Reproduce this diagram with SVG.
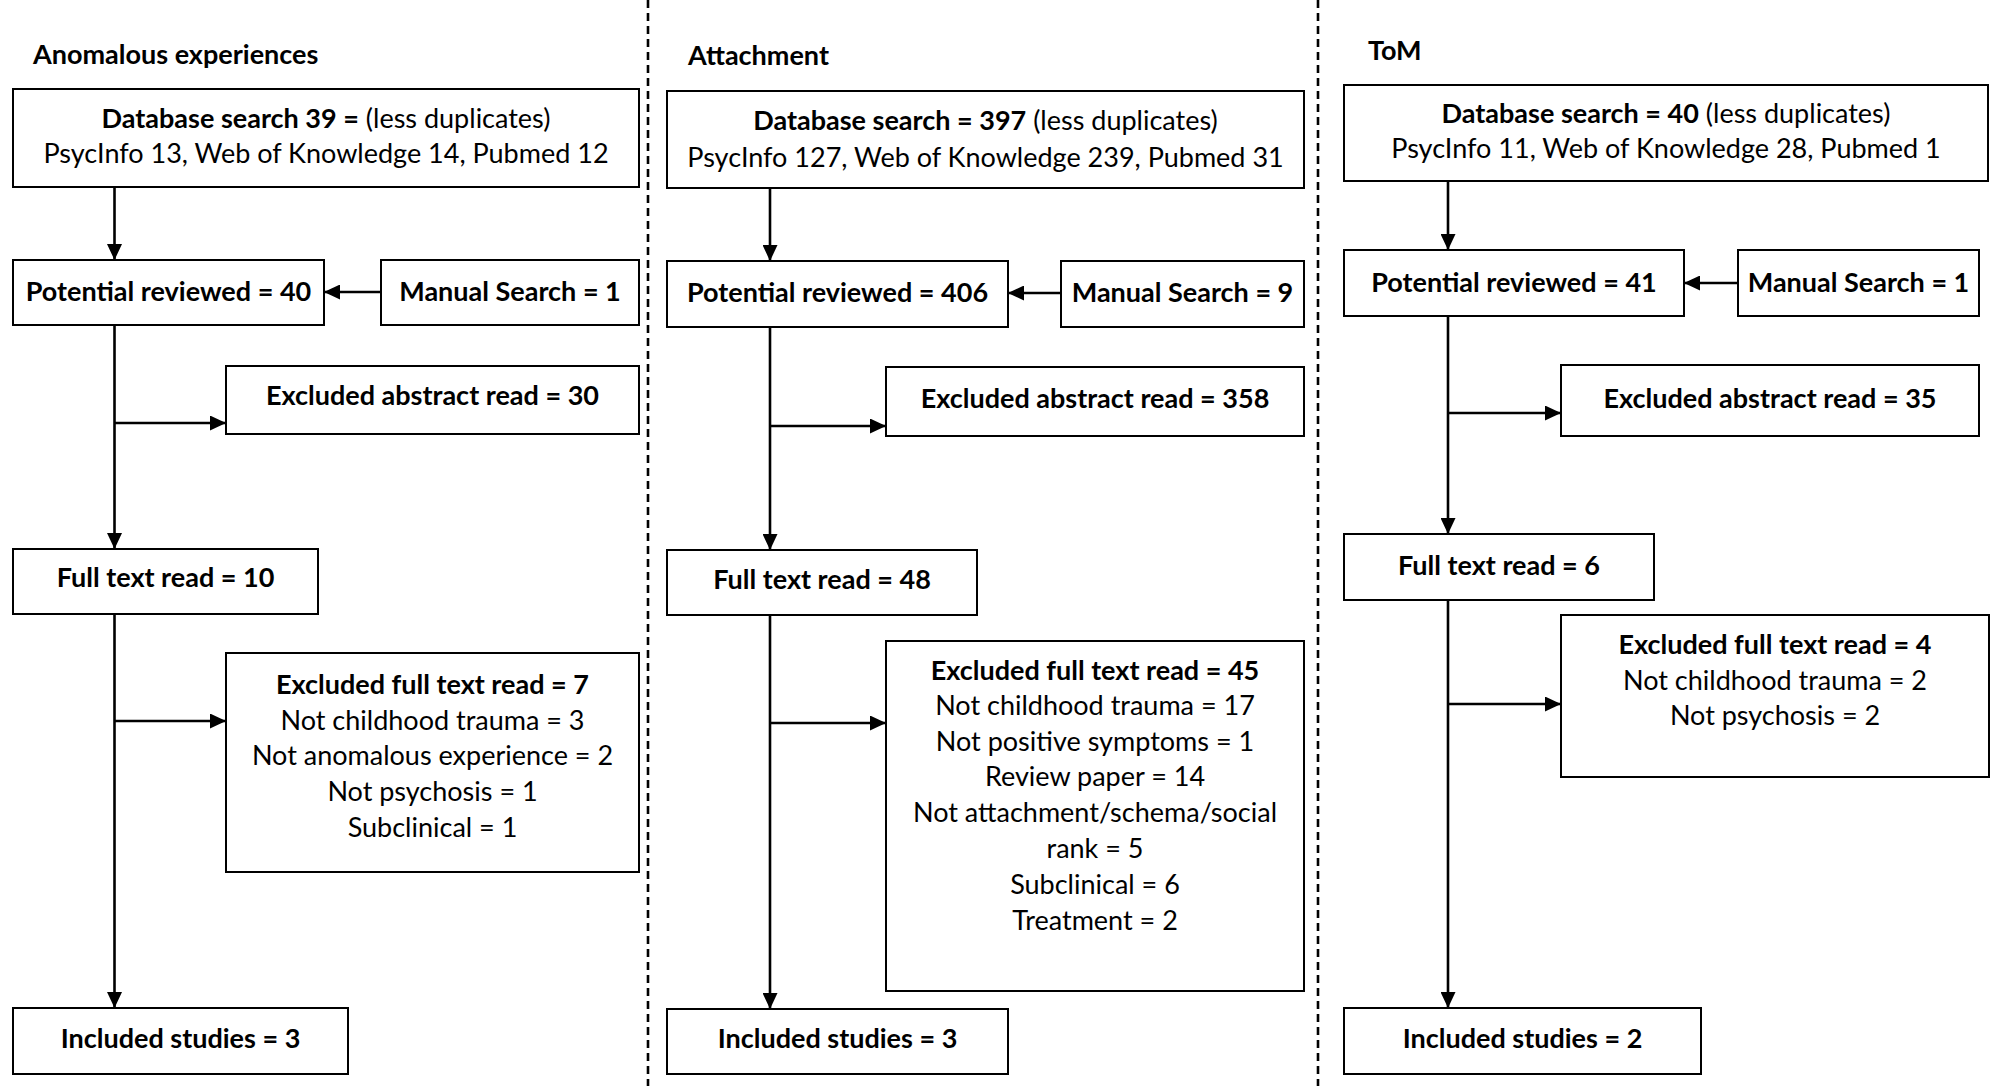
<svg xmlns="http://www.w3.org/2000/svg" width="1993" height="1086" viewBox="0 0 1993 1086">
<style>
  .box { fill: #fff; stroke: #000; stroke-width: 2; }
  .t { font-family: Lato, "Liberation Sans", sans-serif; font-size: 27px; fill: #000; text-anchor: middle; }
  .b { font-weight: bold; }
  .title { font-family: Lato, "Liberation Sans", sans-serif; font-size: 27px; font-weight: bold; fill: #000; }
  .conn { fill: none; stroke: #000; stroke-width: 2.6; }
  .div { stroke: #000; stroke-width: 2.6; stroke-dasharray: 8 5; }
</style>
<defs>
  <marker id="ah" markerWidth="16" markerHeight="15" refX="16" refY="7.5" orient="auto" markerUnits="userSpaceOnUse">
    <path d="M0,0 L16,7.5 L0,15 z" fill="#000"/>
  </marker>
</defs>
<rect width="1993" height="1086" fill="#fff"/>
<g id="dividers">
  <line class="div" x1="648" y1="0" x2="648" y2="1086"/>
  <line class="div" x1="1318" y1="0" x2="1318" y2="1086"/>
</g>
<g id="titles">
  <text class="title" x="33" y="64">Anomalous experiences</text>
  <text class="title" x="688" y="65">Attachment</text>
  <text class="title" x="1368" y="60">ToM</text>
</g>
<g id="connectors">
  <line class="conn" x1="114.5" y1="187" x2="114.5" y2="260" marker-end="url(#ah)"/>
  <line class="conn" x1="114.5" y1="325" x2="114.5" y2="549" marker-end="url(#ah)"/>
  <line class="conn" x1="114.5" y1="614" x2="114.5" y2="1008" marker-end="url(#ah)"/>
  <line class="conn" x1="381" y1="292" x2="324" y2="292" marker-end="url(#ah)"/>
  <line class="conn" x1="114.5" y1="423" x2="226" y2="423" marker-end="url(#ah)"/>
  <line class="conn" x1="114.5" y1="721" x2="226" y2="721" marker-end="url(#ah)"/>

  <line class="conn" x1="770" y1="188" x2="770" y2="261" marker-end="url(#ah)"/>
  <line class="conn" x1="770" y1="327" x2="770" y2="550" marker-end="url(#ah)"/>
  <line class="conn" x1="770" y1="615" x2="770" y2="1009" marker-end="url(#ah)"/>
  <line class="conn" x1="1061" y1="293" x2="1008" y2="293" marker-end="url(#ah)"/>
  <line class="conn" x1="770" y1="426" x2="886" y2="426" marker-end="url(#ah)"/>
  <line class="conn" x1="770" y1="723" x2="886" y2="723" marker-end="url(#ah)"/>

  <line class="conn" x1="1448" y1="181" x2="1448" y2="250" marker-end="url(#ah)"/>
  <line class="conn" x1="1448" y1="316" x2="1448" y2="534" marker-end="url(#ah)"/>
  <line class="conn" x1="1448" y1="600" x2="1448" y2="1008" marker-end="url(#ah)"/>
  <line class="conn" x1="1738" y1="283" x2="1684" y2="283" marker-end="url(#ah)"/>
  <line class="conn" x1="1448" y1="413" x2="1561" y2="413" marker-end="url(#ah)"/>
  <line class="conn" x1="1448" y1="704" x2="1561" y2="704" marker-end="url(#ah)"/>
</g>

<!-- Column 1 -->
<g id="ae-db">
  <rect class="box" x="13" y="89" width="626" height="98"/>
  <text class="t" x="326" y="127.5"><tspan class="b">Database search 39 =</tspan> (less duplicates)</text>
  <text class="t" x="326" y="163">PsycInfo 13, Web of Knowledge 14, Pubmed 12</text>
</g>
<g id="ae-potential">
  <rect class="box" x="13" y="260" width="311" height="65"/>
  <text class="t b" x="168.5" y="301">Potential reviewed = 40</text>
</g>
<g id="ae-manual">
  <rect class="box" x="381" y="260" width="258" height="65"/>
  <text class="t b" x="510" y="301">Manual Search = 1</text>
</g>
<g id="ae-excl-abstract">
  <rect class="box" x="226" y="366" width="413" height="68"/>
  <text class="t b" x="432.5" y="405">Excluded abstract read = 30</text>
</g>
<g id="ae-fulltext">
  <rect class="box" x="13" y="549" width="305" height="65"/>
  <text class="t b" x="165.5" y="587">Full text read = 10</text>
</g>
<g id="ae-excl-full">
  <rect class="box" x="226" y="653" width="413" height="219"/>
  <text class="t b" x="432.5" y="694">Excluded full text read = 7</text>
  <text class="t" x="432.5" y="729.5">Not childhood trauma = 3</text>
  <text class="t" x="432.5" y="765">Not anomalous experience = 2</text>
  <text class="t" x="432.5" y="800.5">Not psychosis = 1</text>
  <text class="t" x="432.5" y="836.5">Subclinical = 1</text>
</g>
<g id="ae-included">
  <rect class="box" x="13" y="1008" width="335" height="66"/>
  <text class="t b" x="180.5" y="1048">Included studies = 3</text>
</g>

<!-- Column 2 -->
<g id="at-db">
  <rect class="box" x="667" y="91" width="637" height="97"/>
  <text class="t" x="985.5" y="130"><tspan class="b">Database search = 397</tspan> (less duplicates)</text>
  <text class="t" x="985.5" y="167">PsycInfo 127, Web of Knowledge 239, Pubmed 31</text>
</g>
<g id="at-potential">
  <rect class="box" x="667" y="261" width="341" height="66"/>
  <text class="t b" x="837.5" y="302">Potential reviewed = 406</text>
</g>
<g id="at-manual">
  <rect class="box" x="1061" y="261" width="243" height="66"/>
  <text class="t b" x="1182.5" y="302">Manual Search = 9</text>
</g>
<g id="at-excl-abstract">
  <rect class="box" x="886" y="367" width="418" height="69"/>
  <text class="t b" x="1095" y="407.5">Excluded abstract read = 358</text>
</g>
<g id="at-fulltext">
  <rect class="box" x="667" y="550" width="310" height="65"/>
  <text class="t b" x="822" y="589">Full text read = 48</text>
</g>
<g id="at-excl-full">
  <rect class="box" x="886" y="641" width="418" height="350"/>
  <text class="t b" x="1095" y="679.5">Excluded full text read = 45</text>
  <text class="t" x="1095" y="715">Not childhood trauma = 17</text>
  <text class="t" x="1095" y="750.5">Not positive symptoms = 1</text>
  <text class="t" x="1095" y="786">Review paper = 14</text>
  <text class="t" x="1095" y="821.5">Not attachment/schema/social</text>
  <text class="t" x="1095" y="857.5">rank = 5</text>
  <text class="t" x="1095" y="894">Subclinical = 6</text>
  <text class="t" x="1095" y="929.5">Treatment = 2</text>
</g>
<g id="at-included">
  <rect class="box" x="667" y="1009" width="341" height="65"/>
  <text class="t b" x="837.5" y="1048">Included studies = 3</text>
</g>

<!-- Column 3 -->
<g id="tom-db">
  <rect class="box" x="1344" y="85" width="644" height="96"/>
  <text class="t" x="1666" y="122.5"><tspan class="b">Database search = 40</tspan> (less duplicates)</text>
  <text class="t" x="1666" y="158">PsycInfo 11, Web of Knowledge 28, Pubmed 1</text>
</g>
<g id="tom-potential">
  <rect class="box" x="1344" y="250" width="340" height="66"/>
  <text class="t b" x="1514" y="291.5">Potential reviewed = 41</text>
</g>
<g id="tom-manual">
  <rect class="box" x="1738" y="250" width="241" height="66"/>
  <text class="t b" x="1858.5" y="291.5">Manual Search = 1</text>
</g>
<g id="tom-excl-abstract">
  <rect class="box" x="1561" y="365" width="418" height="71"/>
  <text class="t b" x="1770" y="407.5">Excluded abstract read = 35</text>
</g>
<g id="tom-fulltext">
  <rect class="box" x="1344" y="534" width="310" height="66"/>
  <text class="t b" x="1499" y="575">Full text read = 6</text>
</g>
<g id="tom-excl-full">
  <rect class="box" x="1561" y="615" width="428" height="162"/>
  <text class="t b" x="1775" y="654">Excluded full text read = 4</text>
  <text class="t" x="1775" y="689.5">Not childhood trauma = 2</text>
  <text class="t" x="1775" y="725">Not psychosis = 2</text>
</g>
<g id="tom-included">
  <rect class="box" x="1344" y="1008" width="357" height="66"/>
  <text class="t b" x="1522.5" y="1048">Included studies = 2</text>
</g>
</svg>
